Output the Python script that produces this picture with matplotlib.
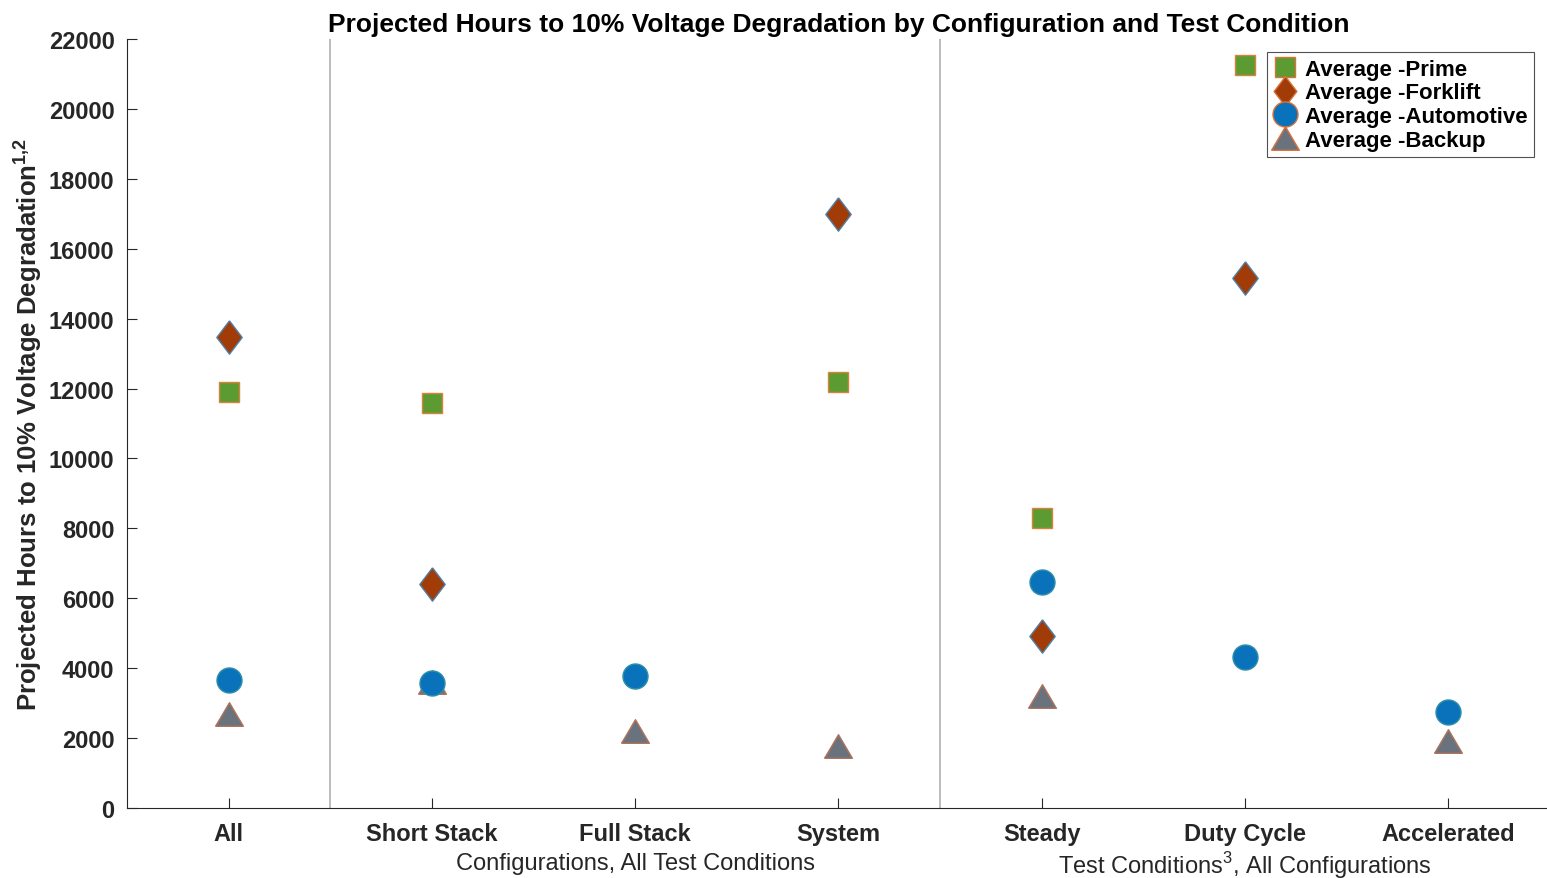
import matplotlib
matplotlib.use("Agg")
import matplotlib.pyplot as plt
from matplotlib.lines import Line2D

plt.rcParams['font.family'] = ['Liberation Sans', 'DejaVu Sans']
plt.rcParams['mathtext.fontset'] = 'custom'
plt.rcParams['mathtext.rm'] = 'Liberation Sans'
plt.rcParams['mathtext.bf'] = 'Liberation Sans:bold'

categories = ["All", "Short Stack", "Full Stack", "System", "Steady", "Duty Cycle", "Accelerated"]
# None where no point is shown
prime = [11900, 11600, None, 12200, 8300, 21260, None]
forklift = [13480, 6400, None, 17000, 4920, 15160, None]
automotive = [3660, 3580, 3780, None, 6470, 4320, 2750]
backup = [2700, 3600, 2200, 1780, 3200, None, 1920]

series_names = ["Average -Prime", "Average -Forklift", "Average -Automotive", "Average -Backup"]

fig = plt.figure(figsize=(15.47, 8.79), dpi=100)
ax = fig.add_axes([0.0821, 0.0796, 0.9198, 0.8749])

diamond = [(0, 1), (0.76, 0), (0, -1), (-0.76, 0), (0, 1)]
triangle = [(-1, -0.85), (1, -0.85), (0, 0.85), (-1, -0.85)]

styles = [
    dict(marker="s", ms=14.5, mfc="#5C9B32", mec="#D9833A"),
    dict(marker=diamond, ms=24, mfc="#A13C09", mec="#4F7FA6"),
    dict(marker="o", ms=18, mfc="#0A72BA", mec="#2E8FA8"),
    dict(marker=triangle, ms=20, mfc="#6A737D", mec="#B0745A"),
]

x = list(range(1, len(categories) + 1))
# draw backup first so it sits under the others
order = [3, 2, 1, 0]
all_series = [prime, forklift, automotive, backup]
for i in order:
    xs = [xi for xi, v in zip(x, all_series[i]) if v is not None]
    ys = [v for v in all_series[i] if v is not None]
    st = styles[i]
    ax.plot(xs, ys, linestyle="none", marker=st["marker"], markersize=st["ms"],
            markerfacecolor=st["mfc"], markeredgecolor=st["mec"], markeredgewidth=1.0)

for sep in [1.5, 4.5]:
    ax.axvline(sep, color="#B0B0B0", lw=1.2)

ax.set_xlim(0.5, 7.5)
ax.set_ylim(0, 22000)
ax.set_yticks(range(0, 22001, 2000))
ax.set_xticks(x)
ax.set_xticklabels(categories, fontsize=17, fontweight="bold", color="#262626")
for lab in ax.get_yticklabels():
    lab.set_fontsize(17)
    lab.set_fontweight("bold")
    lab.set_color("#262626")
ax.tick_params(direction="in", length=7, width=0.8, colors="#262626")
ax.tick_params(axis="x", pad=10)
ax.tick_params(axis="y", pad=9)
ax.spines["top"].set_visible(False)
ax.spines["right"].set_visible(False)
for s in ["left", "bottom"]:
    ax.spines[s].set_color("#262626")
    ax.spines[s].set_linewidth(0.8)

ax.set_title("Projected Hours to 10% Voltage Degradation by Configuration and Test Condition",
             fontsize=19, fontweight="bold", pad=6)
ax.set_ylabel("Projected Hours to 10% Voltage Degradation$^{\\mathbf{1{,}2}}$", fontsize=18.5,
              fontweight="bold", color="#262626")
ax.yaxis.set_label_coords(-0.058, 0.5)

ax.text(3, -0.072, "Configurations, All Test Conditions", transform=ax.get_xaxis_transform(),
        ha="center", va="center", fontsize=17, color="#262626")
ax.text(6, -0.0735, "Test Conditions$^{3}$, All Configurations", transform=ax.get_xaxis_transform(),
        ha="center", va="center", fontsize=17, color="#262626")

handles = []
for i, name in enumerate(series_names):
    st = styles[i]
    handles.append(Line2D([], [], linestyle="none", marker=st["marker"],
                          markersize=st["ms"] * (1.0 if i != 1 else 0.9),
                          markerfacecolor=st["mfc"], markeredgecolor="#D9733A",
                          markeredgewidth=1.0, label=name))
leg = ax.legend(handles=handles, loc="upper right", bbox_to_anchor=(0.989, 0.983),
                prop=dict(size=16, weight="bold"), frameon=True, fancybox=False,
                edgecolor="#262626", handlelength=1.0, handletextpad=0.4,
                labelspacing=0.12, borderpad=0.3, borderaxespad=0)
leg.get_frame().set_linewidth(0.8)

fig.savefig("out.png", dpi=100)
